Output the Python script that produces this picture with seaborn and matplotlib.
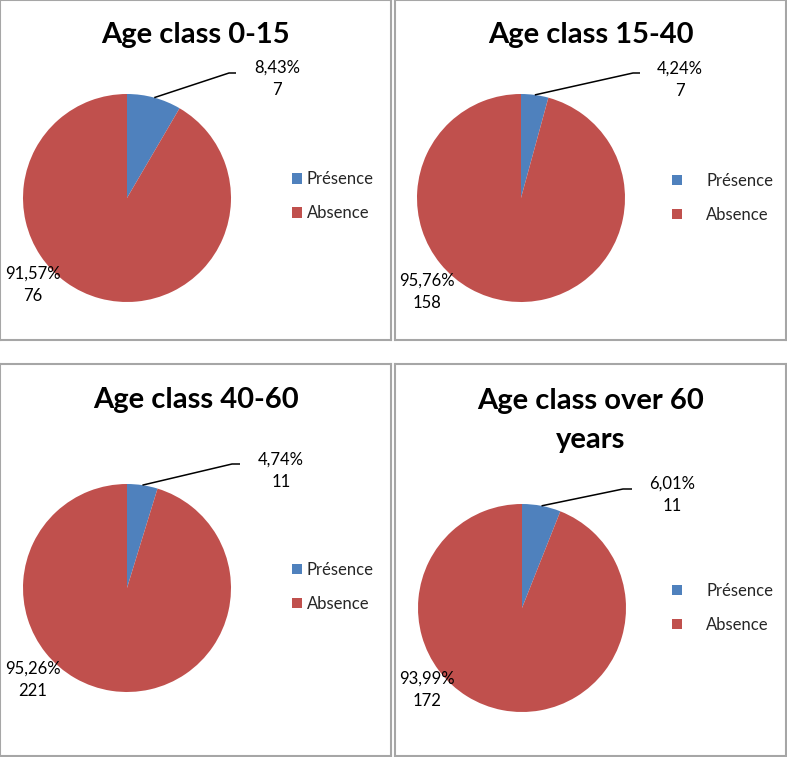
import numpy as np
import pandas as pd
import matplotlib
matplotlib.use("Agg")
import matplotlib.pyplot as plt
import seaborn as sns

# ---------------- data ----------------
titles = ["Age class 0-15", "Age class 15-40", "Age class 40-60", "Age class over 60\nyears"]
categories = ["Présence", "Absence"]
presence_counts = [7, 7, 11, 11]
absence_counts = [76, 158, 221, 172]
presence_pct = ["8,43%", "4,24%", "4,74%", "6,01%"]
absence_pct = ["91,57%", "95,76%", "95,26%", "93,99%"]
colors = ["#4F81BD", "#C0504D"]

# ---------------- style ----------------
sns.set_theme(style="white")
plt.rcParams['font.family'] = ['Lato', 'DejaVu Sans']
palette = sns.color_palette(colors)

W, H = 787, 757
fig = plt.figure(figsize=(W / 100, H / 100), dpi=100)
fig.patch.set_facecolor("white")

# layout in pixel coordinates (y measured from the top)
layout = [
    dict(box=(0, 0, 391, 340), center=(127, 198), title_y=[43],
         plabel=(277, 68), elbow=[(229, 73), (236, 73)], alabel=(33, 274),
         leg=(292, 196.5), pad=0.3),
    dict(box=(395, 0, 786, 340), center=(521, 198), title_y=[43],
         plabel=(680, 69), elbow=[(633, 73), (640, 73)], alabel=(427, 281),
         leg=(672, 198), pad=1.44),
    dict(box=(0, 364, 391, 756), center=(127, 588), title_y=[408],
         plabel=(281, 460), elbow=[(232, 464), (240, 464)], alabel=(33, 669),
         leg=(292, 587), pad=0.3),
    dict(box=(395, 364, 786, 756), center=(522, 608), title_y=[409, 448],
         plabel=(672, 484), elbow=[(623, 489), (632, 489)], alabel=(427, 679),
         leg=(672, 608), pad=1.44),
]

R = 104
LINE = 22
FS = 12

for i, L in enumerate(layout):
    x0, y0, x1, y1 = L["box"]
    ax = fig.add_axes([x0 / W, 1 - y1 / H, (x1 - x0) / W, (y1 - y0) / H])
    df = pd.DataFrame({"category": categories,
                       "count": [presence_counts[i], absence_counts[i]]})
    cx, cy = L["center"]
    wedges, _ = ax.pie(df["count"], colors=palette, startangle=90, counterclock=False,
                       center=(cx, H - cy), radius=R,
                       wedgeprops=dict(linewidth=0))
    ax.set_xlim(x0, x1)
    ax.set_ylim(H - y1, H - y0)
    ax.set_aspect("auto")
    ax.set_frame_on(True)
    for sp in ax.spines.values():
        sp.set_visible(True)
        sp.set_color("#A6A6A6")
        sp.set_linewidth(1.5)
    ax.set_xticks([])
    ax.set_yticks([])

    # title
    for k, line in enumerate(titles[i].split("\n")):
        ax.text((x0 + x1) / 2, H - L["title_y"][k], line, ha="center", va="baseline",
                fontsize=21, fontweight="bold", color="black")

    # presence label with leader line
    w = wedges[0]
    th = np.deg2rad((w.theta1 + w.theta2) / 2)
    ex, ey = cx + R * np.cos(th), (H - cy) + R * np.sin(th)
    xs = [ex] + [p[0] for p in L["elbow"]]
    ys = [ey] + [H - p[1] for p in L["elbow"]]
    ax.plot(xs, ys, color="black", lw=1.1, solid_capstyle="butt")
    px, py = L["plabel"]
    ax.text(px, H - py, presence_pct[i], ha="center", va="center", fontsize=FS, color="black")
    ax.text(px, H - py - LINE, str(presence_counts[i]), ha="center", va="center",
            fontsize=FS, color="black")

    # absence label
    axx, ayy = L["alabel"]
    ax.text(axx, H - ayy, absence_pct[i], ha="center", va="center", fontsize=FS, color="black")
    ax.text(axx, H - ayy - LINE, str(absence_counts[i]), ha="center", va="center",
            fontsize=FS, color="black")

    # legend
    lx, ly = L["leg"]
    ax.legend(wedges, categories, loc="center left", bbox_to_anchor=(lx, H - ly),
              bbox_transform=ax.transData, frameon=False, borderpad=0, borderaxespad=0,
              handlelength=0.6, handleheight=0.6, handletextpad=L["pad"],
              labelspacing=1.08, fontsize=FS)

fig.savefig("out.png", dpi=100, facecolor="white")
